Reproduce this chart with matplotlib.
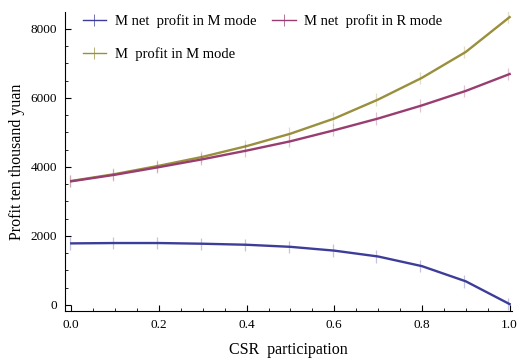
import numpy as np
import matplotlib.pyplot as plt
from matplotlib.ticker import MultipleLocator
from matplotlib.lines import Line2D

plt.rcParams['font.family'] = ['Liberation Serif', 'DejaVu Serif']

csr = [0.0, 0.1, 0.2, 0.3, 0.4, 0.5, 0.6, 0.7, 0.8, 0.9, 1.0]
net_m = [1780, 1790, 1790, 1770, 1740, 1680, 1570, 1400, 1120, 680, 20]
net_r = [3580, 3770, 3990, 4220, 4470, 4740, 5060, 5400, 5780, 6200, 6690]
profit_m = [3590, 3790, 4030, 4290, 4600, 4960, 5400, 5950, 6580, 7330, 8340]

blue = '#3d3d99'
purple = '#993d71'
gold = '#998f3d'

fig = plt.figure(figsize=(5.17, 3.61), dpi=100)
ax = fig.add_axes([0.126, 0.139, 0.864, 0.828])

x = np.array(csr)
h = []
for y, c, lab in [(net_m, blue, 'M net  profit in M mode'),
                  (profit_m, gold, 'M  profit in M mode'),
                  (net_r, purple, 'M net  profit in R mode')]:
    ax.errorbar(x - 0.004, y, yerr=180, fmt='none', ecolor=c, alpha=0.3, elinewidth=0.9)
    ln, = ax.plot(x, y, color=c, lw=1.7, label=lab)
    h.append(ln)

ax.set_xlim(-0.014, 1.005)
ax.set_ylim(-175, 8490)
ax.xaxis.set_major_locator(MultipleLocator(0.2))
ax.xaxis.set_minor_locator(MultipleLocator(0.05))
ax.yaxis.set_major_locator(MultipleLocator(2000))
ax.yaxis.set_minor_locator(MultipleLocator(500))
ax.xaxis.set_major_formatter(plt.FuncFormatter(lambda v, p: f'{v:.1f}'))
ax.tick_params(direction='in', which='major', length=4, width=0.8, labelsize=9.5, pad=6)
ax.tick_params(direction='in', which='minor', length=2.5, width=0.6)
for s in ['top', 'right']:
    ax.spines[s].set_visible(False)

ax.set_ylabel('Profit ten thousand yuan', fontsize=11.5, labelpad=4)
ax.set_xlabel('CSR  participation', fontsize=11.5)
ax.xaxis.set_label_coords(0.5, -0.105)

# legend handles drawn with a small tick like the reference
hand = [Line2D([0], [0], color=l.get_color(), lw=1, marker='|', markersize=9,
               markeredgewidth=0.5) for l in h]
ax.legend(hand, [l.get_label() for l in h], ncol=2, loc='upper left',
          bbox_to_anchor=(0.01, 1.035), frameon=False, fontsize=10.5,
          labelspacing=1.3, columnspacing=1.1, handlelength=1.6, handletextpad=0.6)

fig.savefig('out.png', dpi=100)
